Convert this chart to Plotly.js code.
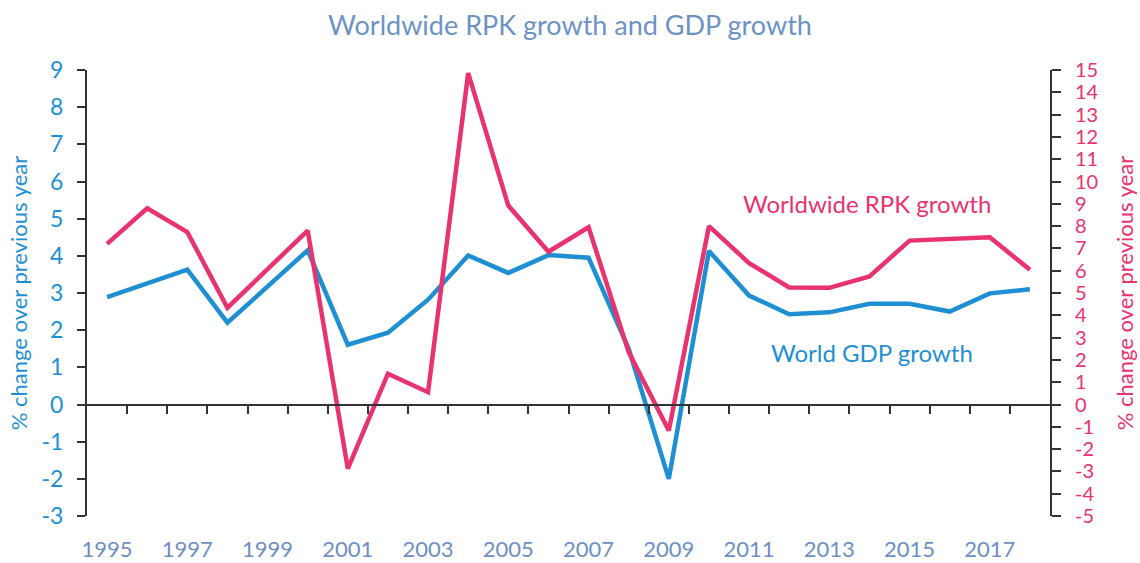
<!DOCTYPE html>
<html>
<head>
<meta charset="utf-8">
<script src="https://cdn.plot.ly/plotly-3.0.1.min.js"></script>
<style>html,body{margin:0;padding:0;background:#fff;}#chart{width:1140px;height:563px;}</style>
</head>
<body>
<div id="chart"></div>
<script>
const years = [1995,1996,1997,1998,1999,2000,2001,2002,2003,2004,2005,2006,2007,2008,2009,2010,2011,2012,2013,2014,2015,2016,2017,2018];
const gdpGrowth = [2.89,3.26,3.63,2.2,3.17,4.15,1.61,1.93,2.82,4.01,3.54,4.02,3.95,1.5,-2.0,4.13,2.93,2.43,2.48,2.71,2.71,2.5,2.99,3.1];
const rpkGrowth = [7.2,8.8,7.73,4.34,6.07,7.8,-2.88,1.38,0.55,14.86,8.92,6.85,7.95,2.35,-1.17,8.0,6.34,5.25,5.23,5.74,7.35,7.43,7.5,6.04];
const labelYears = [1995,1997,1999,2001,2003,2005,2007,2009,2011,2013,2015,2017];
const boundaryTicks = [1995.5,1996.5,1997.5,1998.5,1999.5,2000.5,2001.5,2002.5,2003.5,2004.5,2005.5,2006.5,2007.5,2008.5,2009.5,2010.5,2011.5,2012.5,2013.5,2014.5,2015.5,2016.5,2017.5];
const leftTicks = [-3,-2,-1,0,1,2,3,4,5,6,7,8,9];
const rightTicks = [-5,-4,-3,-2,-1,0,1,2,3,4,5,6,7,8,9,10,11,12,13,14,15];

const BLUE = '#1f8fd3';
const PINK = '#e8336f';
const AXIS = '#333333';
const FONT = 'Lato, "Open Sans", sans-serif';

const traces = [
  {x: years, y: gdpGrowth, xaxis: 'x', yaxis: 'y', type: 'scatter', mode: 'lines',
   line: {color: BLUE, width: 4.5}, name: 'World GDP growth'},
  {x: years, y: rpkGrowth, xaxis: 'x2', yaxis: 'y2', type: 'scatter', mode: 'lines',
   line: {color: PINK, width: 4.5}, name: 'Worldwide RPK growth'}
];

const layout = {
  width: 1140, height: 563,
  margin: {l: 87, r: 90, t: 70, b: 47},
  paper_bgcolor: '#ffffff', plot_bgcolor: '#ffffff',
  showlegend: false,
  font: {family: FONT},
  title: {text: 'Worldwide RPK growth and GDP growth', x: 0.5, xanchor: 'center', y: 0.955, yanchor: 'middle',
          font: {family: FONT, size: 27, color: '#6d92c4'}},
  xaxis: {range: [1994.5, 2018.5], anchor: 'free', position: 0.25,
          tickmode: 'array', tickvals: boundaryTicks, showticklabels: false, ticks: 'outside', ticklen: 8,
          tickwidth: 2, tickcolor: AXIS, showline: true, linecolor: AXIS, linewidth: 2,
          showgrid: false, zeroline: false, fixedrange: true},
  xaxis2: {overlaying: 'x', range: [1994.5, 2018.5], anchor: 'free', position: 0,
           tickmode: 'array', tickvals: labelYears, ticktext: labelYears.map(String),
           showline: false, showgrid: false, zeroline: false, ticks: 'outside', ticklen: 14,
           tickcolor: 'rgba(0,0,0,0)', tickfont: {family: FONT, size: 22, color: '#6d8fc2'}, fixedrange: true},
  yaxis: {range: [-3, 9], tickmode: 'array', tickvals: leftTicks, ticktext: leftTicks.map(String),
          showline: true, linecolor: AXIS, linewidth: 2,
          ticks: 'outside', ticklen: 8, tickwidth: 2, tickcolor: AXIS, showgrid: false, zeroline: false,
          tickfont: {family: FONT, size: 23, color: BLUE}, ticklabelstandoff: 9,
          title: {text: '% change over previous year', font: {family: FONT, size: 22, color: BLUE}, standoff: 8},
          fixedrange: true},
  yaxis2: {overlaying: 'y', side: 'right', anchor: 'x2', range: [-5, 15],
           tickmode: 'array', tickvals: rightTicks, ticktext: rightTicks.map(String),
           showline: true, linecolor: AXIS, linewidth: 2, ticks: 'outside', ticklen: 9, tickwidth: 2,
           tickcolor: AXIS, showgrid: false, zeroline: false,
           tickfont: {family: FONT, size: 20, color: PINK}, ticklabelstandoff: 10,
           title: {text: '% change over previous year', font: {family: FONT, size: 22, color: PINK}, standoff: 20},
           fixedrange: true},
  annotations: [
    {xref: 'x', yref: 'y2', x: 2010.8, y: 9.0, text: 'Worldwide RPK growth', showarrow: false,
     xanchor: 'left', yanchor: 'middle', font: {family: FONT, size: 24, color: PINK}},
    {xref: 'x', yref: 'y', x: 2011.5, y: 1.4, text: 'World GDP growth', showarrow: false,
     xanchor: 'left', yanchor: 'middle', font: {family: FONT, size: 24, color: BLUE}}
  ]
};

Plotly.newPlot('chart', traces, layout, {staticPlot: true, displayModeBar: false});
</script>
</body>
</html>
